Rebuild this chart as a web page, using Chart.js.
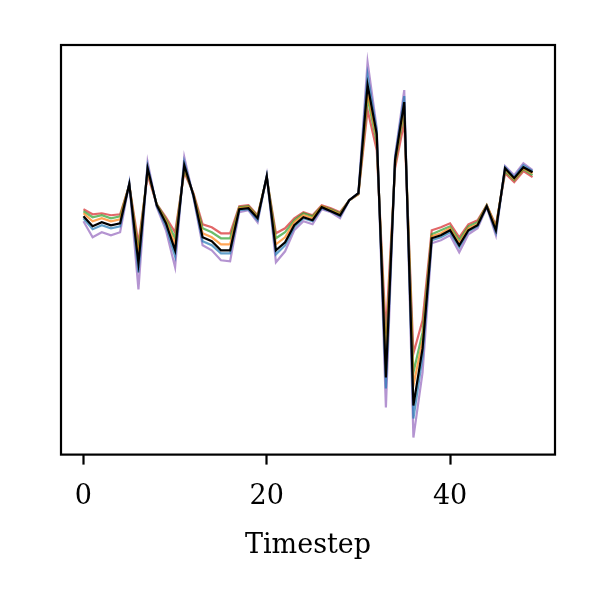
<!DOCTYPE html>
<html>
<head>
<meta charset="utf-8">
<script src="https://cdn.jsdelivr.net/npm/chart.js@4"></script>
<style>
  html, body { margin: 0; padding: 0; background: #fff; }
  #wrap { width: 600px; height: 600px; }
</style>
</head>
<body>
<div id="wrap"><canvas id="chart" width="600" height="600"></canvas></div>
<script>
// Timesteps and tick labels
const TIMESTEPS = [0,1,2,3,4,5,6,7,8,9,10,11,12,13,14,15,16,17,18,19,20,21,22,23,24,
                   25,26,27,28,29,30,31,32,33,34,35,36,37,38,39,40,41,42,43,44,45,46,47,48,49];
const X_TICKS = [0, 20, 40];

// Series values (arbitrary units)
const RED    = [0.41,0.36,0.37,0.35,0.36,0.65,0.07,0.75,0.46,0.33,0.18,0.78,0.57,0.26,0.23,0.17,0.17,0.44,0.45,0.35,
                0.72,0.17,0.22,0.32,0.38,0.35,0.45,0.42,0.38,0.50,0.56,1.40,1.00,-0.83,0.82,1.28,-1.03,-0.70,0.20,0.23,
                0.27,0.13,0.26,0.30,0.45,0.25,0.77,0.68,0.79,0.73];
const GREEN  = [0.39,0.33,0.35,0.32,0.34,0.65,0.00,0.79,0.46,0.31,0.12,0.81,0.56,0.22,0.18,0.12,0.12,0.43,0.44,0.34,
                0.73,0.12,0.18,0.30,0.37,0.34,0.44,0.41,0.37,0.50,0.56,1.52,1.08,-1.05,0.86,1.40,-1.22,-0.82,0.16,0.20,
                0.24,0.10,0.24,0.28,0.45,0.23,0.79,0.70,0.81,0.75];
const ORANGE = [0.37,0.29,0.32,0.29,0.31,0.66,-0.06,0.80,0.45,0.29,0.06,0.83,0.56,0.17,0.13,0.06,0.06,0.42,0.43,0.33,
                0.73,0.06,0.13,0.28,0.35,0.32,0.44,0.40,0.36,0.50,0.56,1.58,1.12,-1.15,0.88,1.44,-1.35,-0.90,0.14,0.17,
                0.22,0.07,0.22,0.26,0.45,0.22,0.81,0.71,0.82,0.77];
const BLACK  = [0.34,0.24,0.28,0.25,0.27,0.66,-0.13,0.82,0.45,0.27,0.00,0.85,0.55,0.13,0.09,0.00,0.00,0.41,0.42,0.32,
                0.74,0.00,0.08,0.25,0.33,0.30,0.43,0.39,0.35,0.50,0.57,1.65,1.16,-1.27,0.90,1.48,-1.55,-0.98,0.12,0.15,
                0.20,0.05,0.20,0.25,0.44,0.20,0.82,0.72,0.83,0.78];
const BLUE   = [0.32,0.21,0.25,0.22,0.24,0.67,-0.22,0.84,0.44,0.24,-0.06,0.88,0.54,0.09,0.05,-0.03,-0.03,0.40,0.41,0.30,
                0.74,-0.04,0.05,0.23,0.32,0.29,0.42,0.39,0.34,0.50,0.57,1.75,1.19,-1.38,0.92,1.54,-1.68,-1.06,0.10,0.13,
                0.18,0.03,0.19,0.24,0.44,0.18,0.83,0.73,0.85,0.79];
const PURPLE = [0.29,0.13,0.18,0.15,0.18,0.67,-0.39,0.88,0.43,0.20,-0.17,0.93,0.53,0.05,0.00,-0.10,-0.11,0.38,0.40,0.28,
                0.75,-0.12,-0.01,0.20,0.29,0.26,0.41,0.38,0.32,0.50,0.57,1.88,1.22,-1.57,0.94,1.60,-1.87,-1.22,0.07,0.10,
                0.15,-0.02,0.16,0.22,0.43,0.15,0.84,0.75,0.87,0.80];

const SERIES = [
  { data: RED,    color: 'rgba(214,39,40,0.7)',   width: 2.2, order: 5 },
  { data: GREEN,  color: 'rgba(44,160,44,0.7)',   width: 2.2, order: 4 },
  { data: ORANGE, color: 'rgba(255,127,14,0.7)',  width: 2.2, order: 3 },
  { data: BLUE,   color: 'rgba(31,119,180,0.7)',  width: 2.2, order: 1 },
  { data: PURPLE, color: 'rgba(148,103,189,0.7)', width: 2.2, order: 2 },
  { data: BLACK,  color: '#000000',               width: 2.2, order: 0 },
];

const FONT = 'DejaVu Serif';

// frame around the plot area
const frame = {
  id: 'frame',
  afterDraw(chart) {
    const { ctx, chartArea: a } = chart;
    ctx.save();
    ctx.strokeStyle = '#000';
    ctx.lineWidth = 2.2;
    ctx.strokeRect(a.left, a.top, a.right - a.left, a.bottom - a.top);
    ctx.restore();
  },
};

new Chart(document.getElementById('chart'), {
  type: 'line',
  data: {
    datasets: SERIES.map(s => ({
      data: s.data.map((v, i) => ({ x: TIMESTEPS[i], y: v })),
      borderColor: s.color,
      borderWidth: s.width,
      order: s.order,
      pointRadius: 0,
      tension: 0,
      fill: false,
    })),
  },
  options: {
    responsive: false,
    animation: false,
    layout: { padding: { left: 61, right: 45, top: 45, bottom: 38 } },
    plugins: { legend: { display: false }, tooltip: { enabled: false } },
    scales: {
      x: {
        type: 'linear',
        min: -2.45,
        max: 51.45,
        afterBuildTicks: (axis) => { axis.ticks = X_TICKS.map(v => ({ value: v })); },
        grid: { drawOnChartArea: false, drawTicks: true, tickLength: 10, tickWidth: 2.2, tickColor: '#000' },
        border: { display: false },
        ticks: { color: '#000', font: { family: FONT, size: 27, lineHeight: 1 }, padding: 19, maxRotation: 0 },
        title: { display: true, text: 'Timestep', color: '#000', font: { family: FONT, size: 27 }, padding: { top: 0, bottom: 0 } },
      },
      y: {
        display: false,
        min: -2.04,
        max: 2.05,
      },
    },
  },
  plugins: [frame],
});
</script>
</body>
</html>
